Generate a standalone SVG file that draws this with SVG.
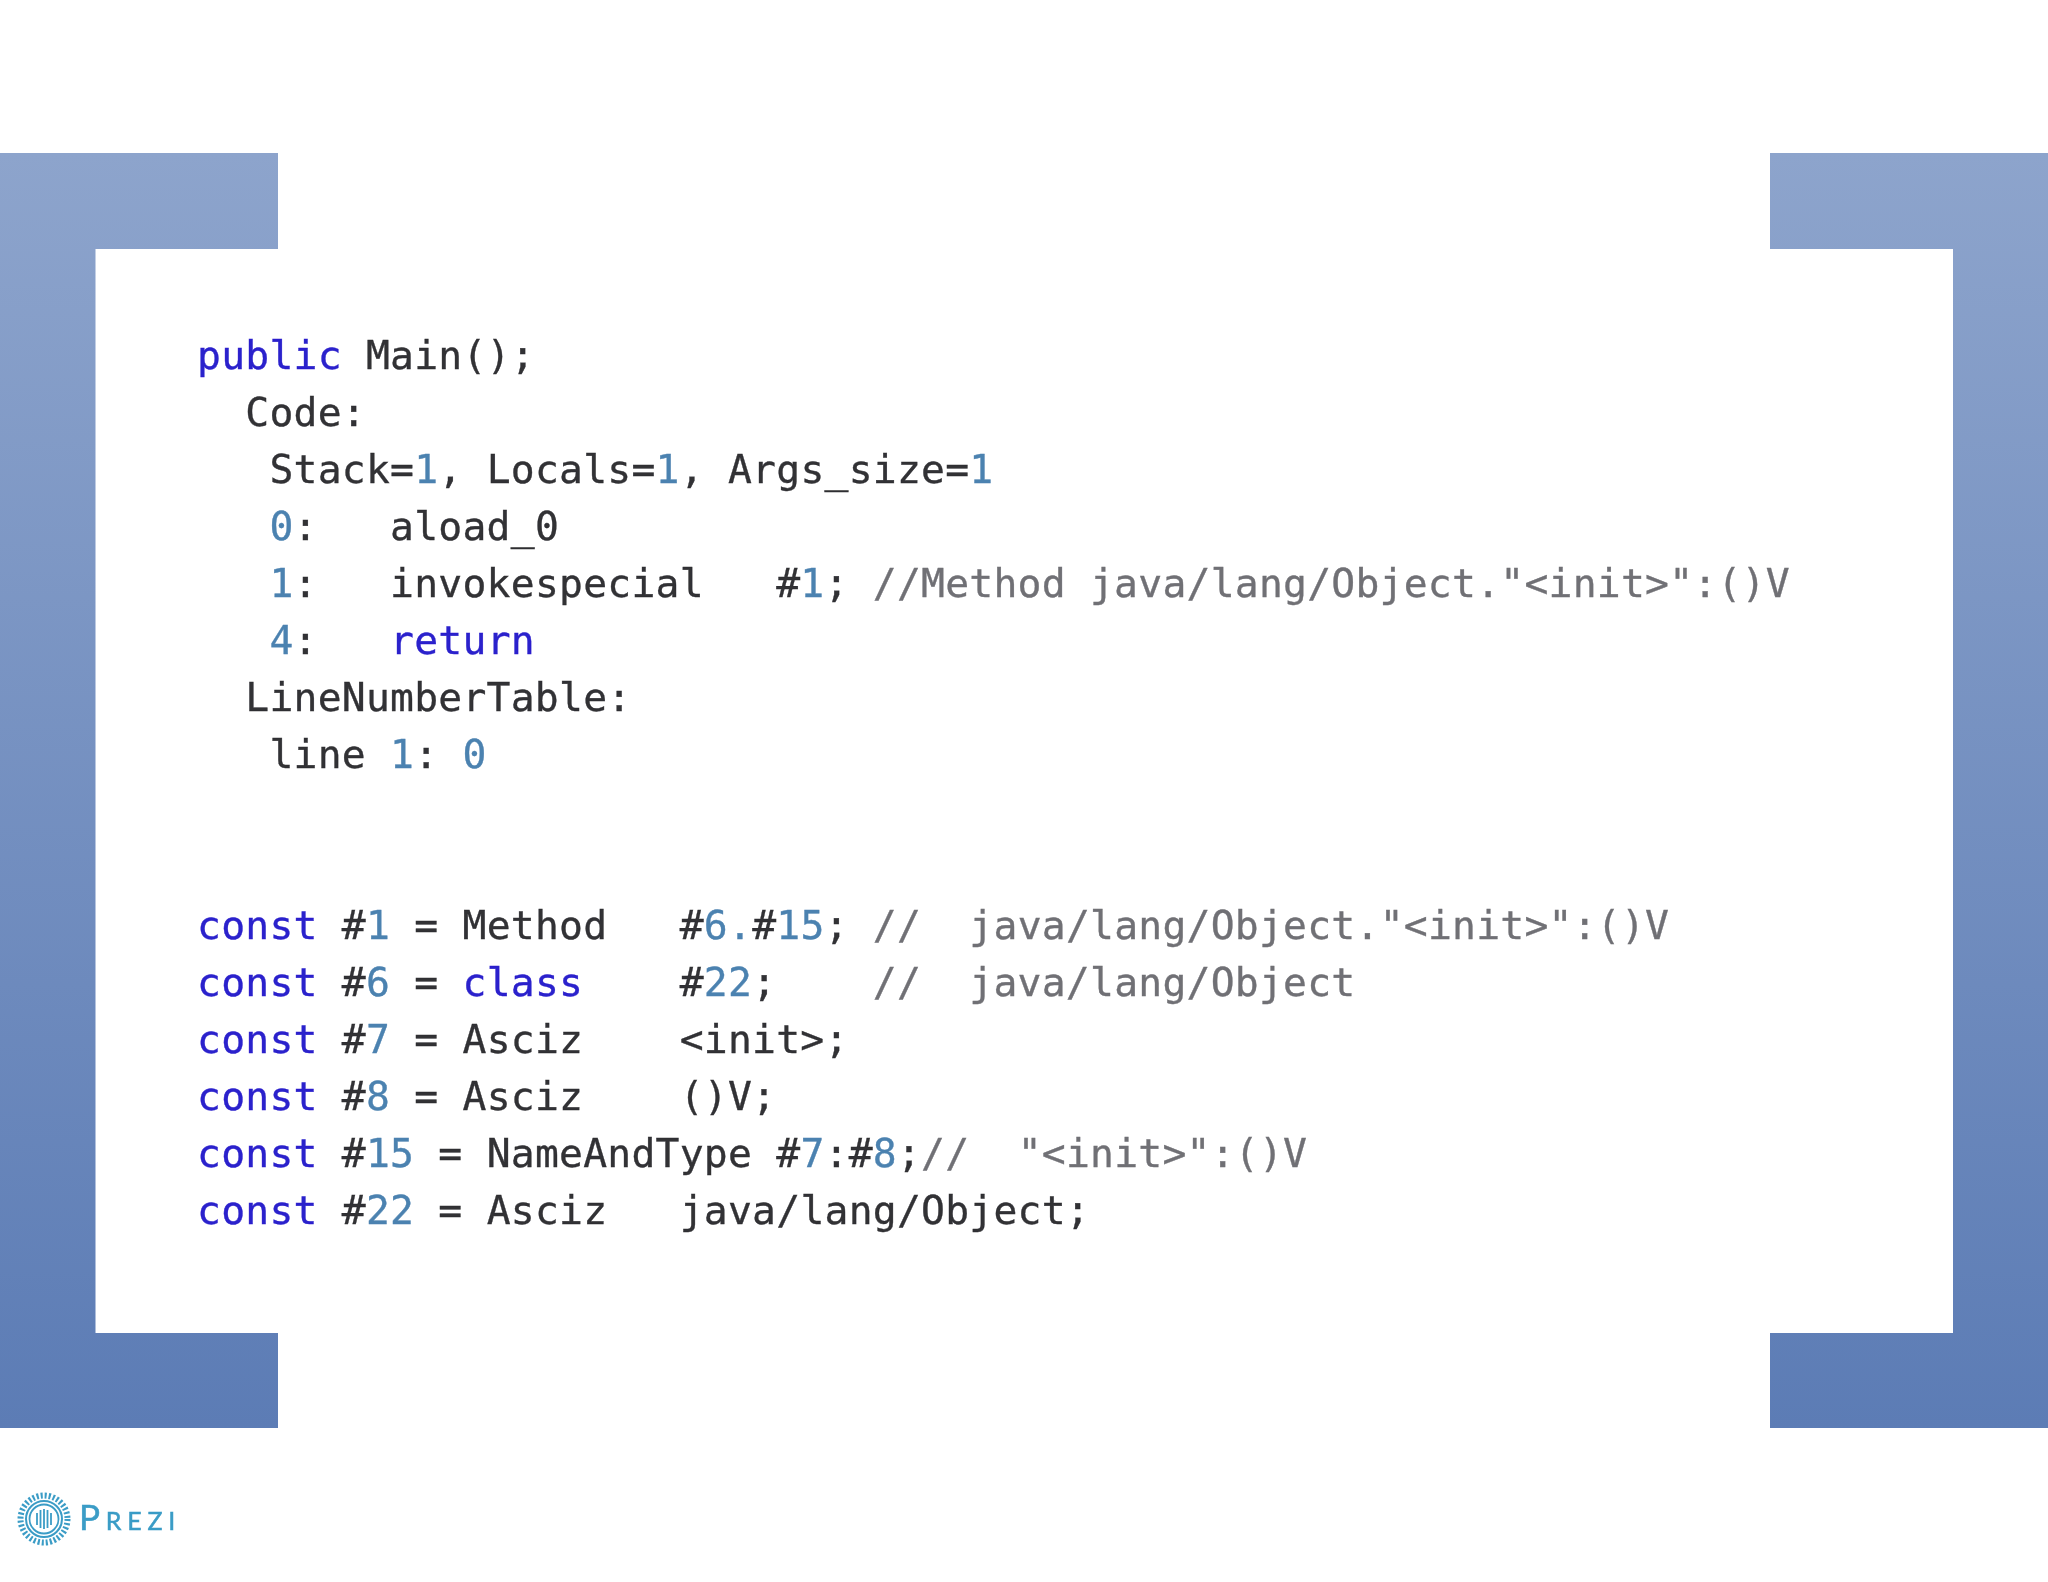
<svg xmlns="http://www.w3.org/2000/svg" width="2048" height="1582" viewBox="0 0 2048 1582">
<style>
text{white-space:pre}
.c{font-family:"DejaVu Sans Mono","Liberation Mono",monospace;font-size:39.7px;letter-spacing:0.24px;fill:#303034;stroke:#303034;stroke-width:0.35px;filter:url(#soft)}
.k{fill:#2b20cc;stroke:#2b20cc}
.n{fill:#4c82b0;stroke:#4c82b0}
.g{fill:#707075;stroke:#707075}
.logo{fill:none;stroke:#3a9cc6}
</style>
<defs>
<linearGradient id="bg" gradientUnits="userSpaceOnUse" x1="0" y1="153" x2="0" y2="1428">
<stop offset="0" stop-color="#8da4cc"/>
<stop offset="1" stop-color="#5c7cb5"/>
</linearGradient>
<filter id="soft" x="-5%" y="-30%" width="110%" height="160%"><feGaussianBlur stdDeviation="0.7"/></filter>
<filter id="softer" x="-20%" y="-20%" width="140%" height="140%"><feGaussianBlur stdDeviation="0.4"/></filter>
</defs>
<rect width="2048" height="1582" fill="#ffffff"/>
<g id="frame">
<path id="bracket-left" fill="url(#bg)" d="M0 153H278V249H95.500V1333H278V1428H0Z"/>
<path id="bracket-right" fill="url(#bg)" d="M2048 153H1770V249H1953V1333H1770V1428H2048Z"/>
</g>
<g id="code-method">
<text class="c" x="197" y="369"><tspan class="k">public</tspan> Main();</text>
<text class="c" x="197" y="426">  Code:</text>
<text class="c" x="197" y="483">   Stack=<tspan class="n">1</tspan>, Locals=<tspan class="n">1</tspan>, Args_size=<tspan class="n">1</tspan></text>
<text class="c" x="197" y="540">   <tspan class="n">0</tspan>:   aload_0</text>
<text class="c" x="197" y="597">   <tspan class="n">1</tspan>:   invokespecial   #<tspan class="n">1</tspan>; <tspan class="g">//Method java/lang/Object."&lt;init&gt;":()V</tspan></text>
<text class="c" x="197" y="654">   <tspan class="n">4</tspan>:   <tspan class="k">return</tspan></text>
<text class="c" x="197" y="711">  LineNumberTable:</text>
<text class="c" x="197" y="768">   line <tspan class="n">1</tspan>: <tspan class="n">0</tspan></text>
</g>
<g id="code-constants">
<text class="c" x="197" y="939"><tspan class="k">const</tspan> #<tspan class="n">1</tspan> = Method   #<tspan class="n">6.</tspan>#<tspan class="n">15</tspan>; <tspan class="g">//  java/lang/Object."&lt;init&gt;":()V</tspan></text>
<text class="c" x="197" y="996"><tspan class="k">const</tspan> #<tspan class="n">6</tspan> = <tspan class="k">class</tspan>    #<tspan class="n">22</tspan>;    <tspan class="g">//  java/lang/Object</tspan></text>
<text class="c" x="197" y="1053"><tspan class="k">const</tspan> #<tspan class="n">7</tspan> = Asciz    &lt;init&gt;;</text>
<text class="c" x="197" y="1110"><tspan class="k">const</tspan> #<tspan class="n">8</tspan> = Asciz    ()V;</text>
<text class="c" x="197" y="1167"><tspan class="k">const</tspan> #<tspan class="n">15</tspan> = NameAndType #<tspan class="n">7</tspan>:#<tspan class="n">8</tspan>;<tspan class="g">//  "&lt;init&gt;":()V</tspan></text>
<text class="c" x="197" y="1224"><tspan class="k">const</tspan> #<tspan class="n">22</tspan> = Asciz   java/lang/Object;</text>
</g>
<g id="prezi-logo" filter="url(#softer)">
<circle class="logo" cx="44" cy="1519" r="23.500" stroke-width="6" stroke-dasharray="2.100 2"/>
<circle class="logo" cx="44" cy="1519" r="18" stroke-width="2"/>
<circle class="logo" cx="44" cy="1519" r="14.500" stroke-width="1.800"/>
<path class="logo" stroke-width="1.800" d="M37 1513V1525M40.500 1510V1528M44 1509V1529M47.500 1510V1528M51 1513V1525"/>
<text x="79" y="1530" font-family="Lato,'Liberation Sans',sans-serif" font-size="35" letter-spacing="5.800" fill="#3a9cc6" stroke="#3a9cc6" stroke-width="0.5" style="font-variant:small-caps">Prezi</text>
</g>
</svg>
